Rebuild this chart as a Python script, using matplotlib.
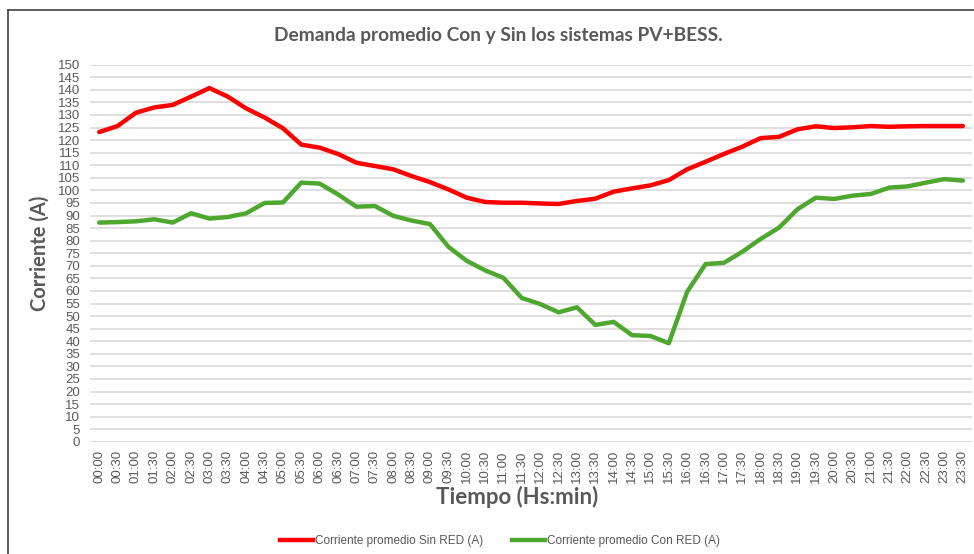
import matplotlib
matplotlib.use("Agg")
import matplotlib.pyplot as plt
from matplotlib.lines import Line2D

plt.rcParams['font.family'] = ['Lato', 'DejaVu Sans']

# horarios cada 30 minutos
horas = ["%02d:%02d" % (h, m) for h in range(24) for m in (0, 30)]

sin_red = [123.2, 125.6, 130.9, 133.0, 134.0, 137.3, 140.7, 137.3, 132.6, 129.0,
           124.7, 118.2, 117.0, 114.5, 111.0, 109.7, 108.4, 105.7, 103.3, 100.4,
           97.1, 95.4, 95.1, 95.1, 94.8, 94.6, 95.8, 96.7, 99.5, 100.8,
           102.0, 104.1, 108.4, 111.4, 114.5, 117.4, 120.8, 121.3, 124.3, 125.5,
           124.8, 125.1, 125.6, 125.3, 125.5, 125.6, 125.6, 125.6]

con_red = [87.2, 87.4, 87.7, 88.5, 87.2, 90.9, 88.8, 89.4, 90.9, 95.0,
           95.2, 103.1, 102.7, 98.4, 93.5, 93.8, 89.9, 88.0, 86.6, 77.6,
           72.0, 68.2, 65.2, 57.2, 54.8, 51.5, 53.5, 46.5, 47.7, 42.4,
           42.1, 39.2, 59.7, 70.7, 71.2, 75.6, 80.7, 85.2, 92.5, 97.1,
           96.6, 97.9, 98.6, 101.1, 101.6, 103.1, 104.5, 103.9]

gris = '#595959'
rojo = '#ff0000'
verde = '#4ea72e'
fuente_ticks = ['Liberation Sans', 'DejaVu Sans']

fig = plt.figure(figsize=(9.74, 5.54), dpi=100)
ax = fig.add_axes([90 / 974, 1 - 441.8 / 554, 882 / 974, (441.8 - 64.7) / 554])

x = list(range(len(horas)))
ax.plot(x, sin_red, color=rojo, lw=3.2, solid_capstyle='round', solid_joinstyle='round')
ax.plot(x, con_red, color=verde, lw=3.2, solid_capstyle='round', solid_joinstyle='round')

ax.set_xlim(-0.5, len(horas) - 0.5)
ax.set_ylim(0, 150)
ax.set_yticks(range(0, 151, 5))
ax.set_xticks(x)
ax.set_xticklabels(horas, rotation=90, family=fuente_ticks)
for t in ax.get_yticklabels():
    t.set_family(fuente_ticks)
ax.tick_params(axis='both', length=0, colors=gris, labelsize=9.5)
ax.tick_params(axis='x', pad=6)
ax.tick_params(axis='y', pad=7)
ax.grid(axis='y', color='#d9d9d9', lw=1.2)
ax.set_axisbelow(True)
for s in ax.spines.values():
    s.set_visible(False)

ax.set_ylabel('Corriente (A)', fontsize=14.5, fontweight='bold', color=gris)
ax.yaxis.set_label_coords(-40 / 882, 0.5)
ax.set_xlabel('Tiempo (Hs:min)', fontsize=16, fontweight='bold', color=gris)
ax.xaxis.set_label_coords((517 - 90) / 882, -(497 - 441.8) / (441.8 - 64.7))
ax.xaxis.label.set_va('center')

fig.text(498 / 974, 1 - 35 / 554, 'Demanda promedio Con y Sin los sistemas PV+BESS.',
         ha='center', va='center', fontsize=13.8, fontweight='bold', color=gris)

handles = [Line2D([], [], color=rojo, lw=3.2), Line2D([], [], color=verde, lw=3.2)]
fig.legend(handles, ['Corriente promedio Sin RED (A)', 'Corriente promedio Con RED (A)'],
           loc='center', bbox_to_anchor=(500 / 974, 1 - 541 / 554), ncol=2, frameon=False,
           prop={'family': fuente_ticks, 'size': 8.5}, labelcolor=gris,
           handlelength=2.8, handletextpad=0.15, columnspacing=2.4)

# marco del gráfico
fig.add_artist(Line2D([8 / 974, 8 / 974], [0, 1 - 10 / 554], color='#404040', lw=1.2))
fig.add_artist(Line2D([8 / 974, 1], [1 - 10 / 554, 1 - 10 / 554], color='#404040', lw=1.2))

fig.savefig('out.png', dpi=100)
